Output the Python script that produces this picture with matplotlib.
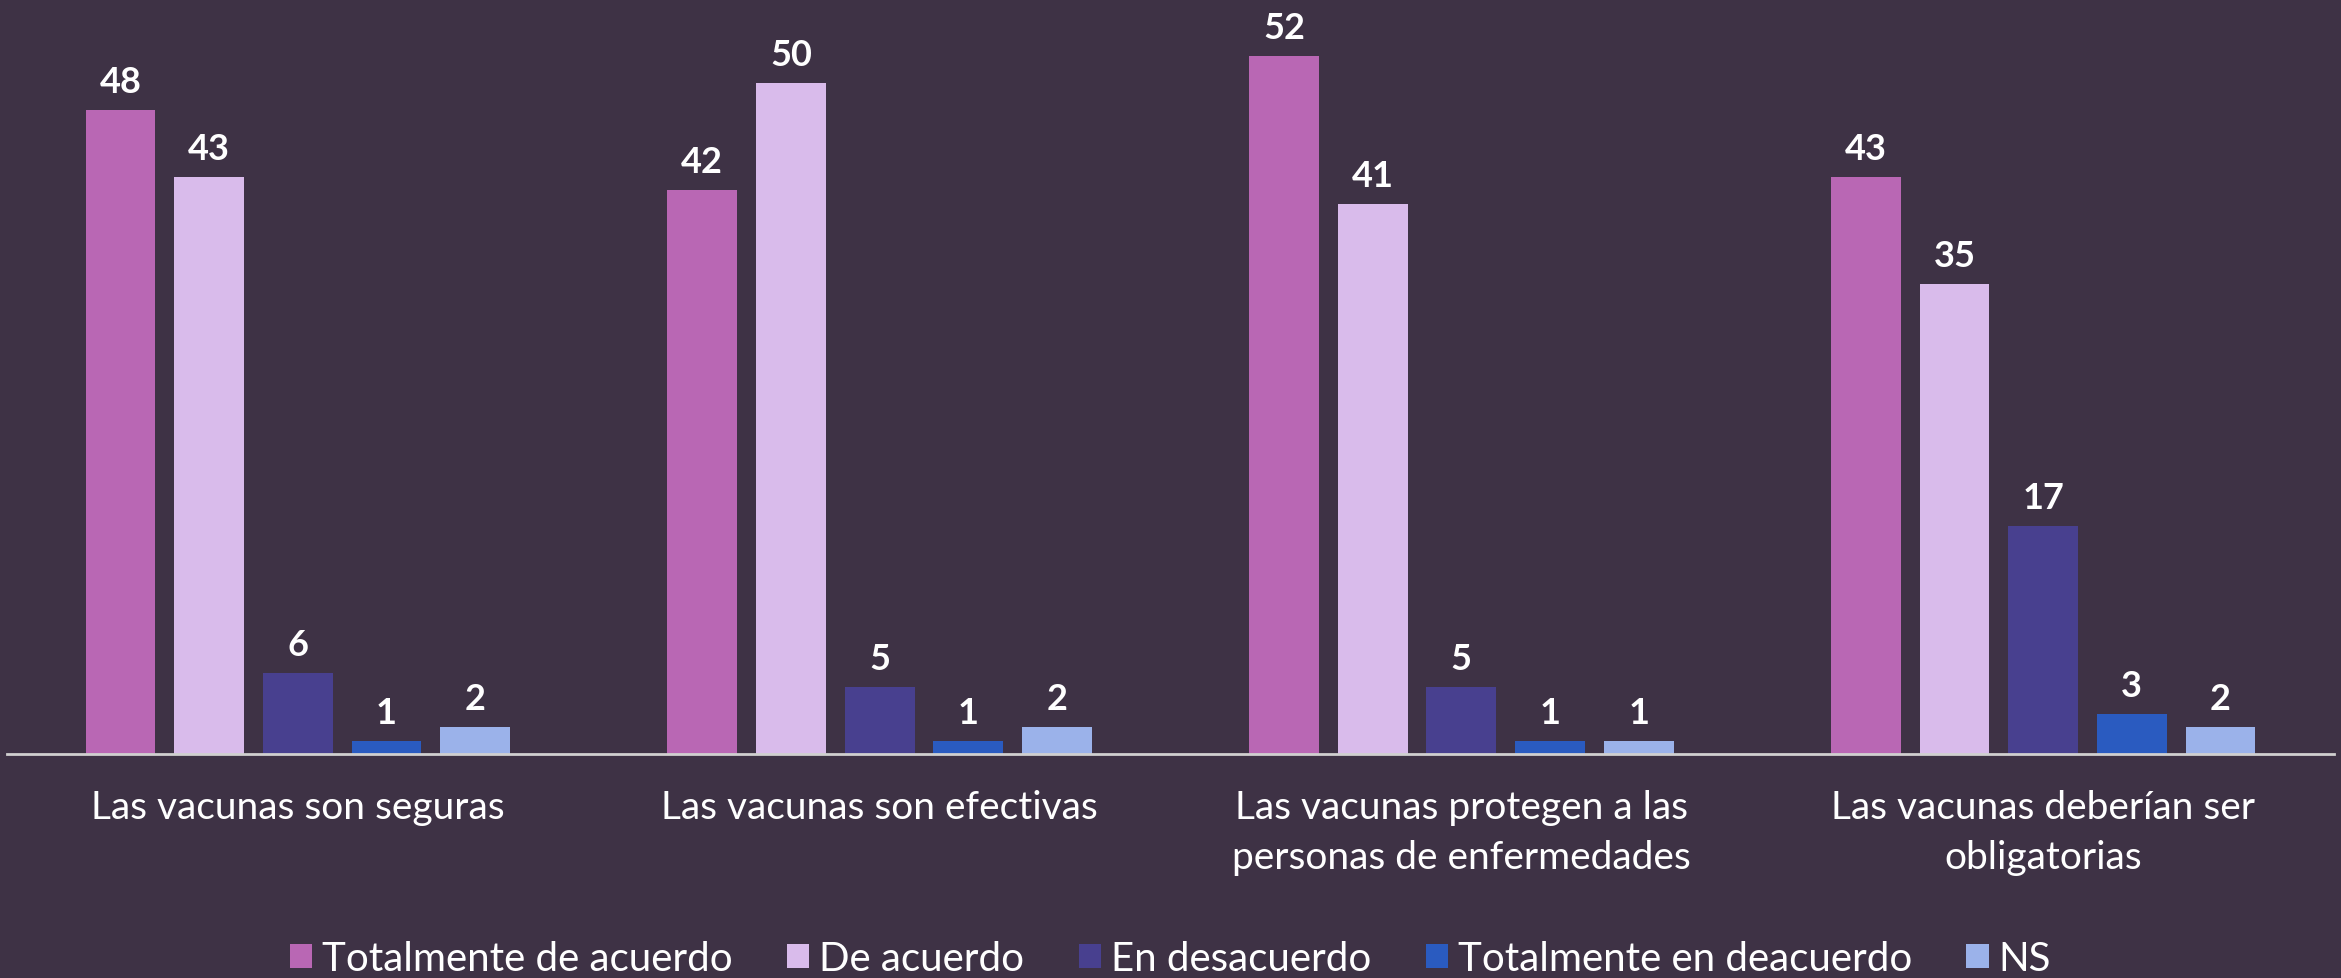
import matplotlib.pyplot as plt
import numpy as np

plt.rcParams['font.family'] = ['Lato', 'DejaVu Sans']

categories = ['Las vacunas son seguras', 'Las vacunas son efectivas',
              'Las vacunas protegen a las\npersonas de enfermedades',
              'Las vacunas deberían ser\nobligatorias']
series = ['Totalmente de acuerdo', 'De acuerdo', 'En desacuerdo',
          'Totalmente en deacuerdo', 'NS']
tot_acuerdo = [48, 42, 52, 43]
de_acuerdo = [43, 50, 41, 35]
desacuerdo = [6, 5, 5, 17]
tot_desacuerdo = [1, 1, 1, 3]
ns = [2, 2, 1, 2]
values = [tot_acuerdo, de_acuerdo, desacuerdo, tot_desacuerdo, ns]
colors = ['#b967b4', '#d9bbeb', '#48408f', '#2a5bc0', '#9bb2ea']

bg = '#3e3245'
fig = plt.figure(figsize=(23.41, 9.79), dpi=100, facecolor=bg)
ax = fig.add_axes([7/2341, 1 - 755/979, 2327/2341, 755/979])
ax.set_facecolor(bg)

x = np.arange(len(categories))
step = 0.1525
width = 0.12
for i, (name, vals, c) in enumerate(zip(series, values, colors)):
    pos = x + (i - 2) * step
    ax.bar(pos, vals, width, color=c, label=name, linewidth=0)
    for p, v in zip(pos, vals):
        ax.annotate(str(v), (p, v), xytext=(0, 13), textcoords='offset points',
                    ha='center', va='baseline', color='white', fontsize=26,
                    fontweight='bold')

ax.set_xlim(-0.5, 3.5)
ax.set_ylim(0, 56.25)
ax.set_yticks([])
ax.set_xticks(x)
ax.set_xticklabels(categories, color='white', fontsize=28, linespacing=1.5)
ax.tick_params(axis='x', length=0, pad=25)
for s in ['top', 'right', 'left']:
    ax.spines[s].set_visible(False)
ax.spines['bottom'].set_color('#d0d0d0')
ax.spines['bottom'].set_linewidth(2)

leg = fig.legend(loc='center', bbox_to_anchor=(0.5, 1 - 960/979), ncol=5,
                 frameon=False, prop={'size': 29},
                 handlelength=0.55, handleheight=0.55,
                 handletextpad=0.25, columnspacing=1.35, labelcolor='white')

fig.savefig('out.png', dpi=100, facecolor=bg)
